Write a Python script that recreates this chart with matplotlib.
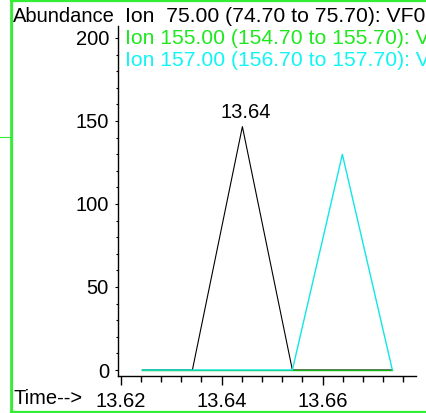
import matplotlib
matplotlib.use("Agg")
import matplotlib.pyplot as plt
from matplotlib.ticker import MultipleLocator, FormatStrFormatter
from matplotlib.lines import Line2D

plt.rcParams['font.family'] = ['Liberation Sans', 'DejaVu Sans']

# scan times (min) and abundances for the three ions
times = [13.6243, 13.6342, 13.6441, 13.6540, 13.6639, 13.6738]
ion75 = [0, 0, 146.6, 0, 0, 0]
ion155 = [0, 0, 0, 0, 0, 0]
ion157 = [0, 0, 0, 0, 129.9, 0]

headers = ["Ion  75.00 (74.70 to 75.70): VF0",
           "Ion 155.00 (154.70 to 155.70): V",
           "Ion 157.00 (156.70 to 157.70): V"]
text_colors = ['black', '#1ee81e', '#11f5f5']
line_colors = ['black', '#10b810', '#12e6e6']

W, H = 426, 413
fig = plt.figure(figsize=(W / 100, H / 100), dpi=100)
fig.patch.set_facecolor('white')

def fx(px):
    return px / W

def fy(py):
    return 1 - py / H

ax = fig.add_axes([fx(118), fy(375.7), fx(416) - fx(118), fy(26) - fy(375.7)])

ax.plot(times, ion75, color=line_colors[0], lw=0.8)
ax.plot(times, ion155, color=line_colors[1], lw=1.0)
ax.plot(times, ion157, color=line_colors[2], lw=1.0)

# label the biggest peak with its retention time
ipk = ion75.index(max(ion75))
ax.annotate("%.2f" % times[ipk], (times[ipk], ion75[ipk]), xytext=(3, 5),
            textcoords='offset pixels', ha='center', va='bottom', fontsize=14.5)

ax.set_xlim(13.61947, 13.67848)
ax.set_ylim(-3.43, 207.2)

for s in ['top', 'right']:
    ax.spines[s].set_visible(False)
for s in ['left', 'bottom']:
    ax.spines[s].set_linewidth(1.0)

ax.xaxis.set_major_locator(MultipleLocator(0.02))
ax.xaxis.set_minor_locator(MultipleLocator(0.004))
ax.xaxis.set_major_formatter(FormatStrFormatter('%.2f'))
ax.yaxis.set_major_locator(MultipleLocator(50))
ax.yaxis.set_minor_locator(MultipleLocator(10))

ax.tick_params(axis='x', which='major', direction='out', length=6.5, width=1.0,
               labelsize=14.5, pad=5)
ax.tick_params(axis='x', which='minor', direction='out', length=4, width=1.0)
ax.tick_params(axis='y', which='major', direction='out', length=2.5, width=0.8,
               labelsize=14.5, pad=4)
ax.tick_params(axis='y', which='minor', direction='out', length=1.5, width=0.8)

# header texts
fig.text(fx(13), fy(16), "Abundance", fontsize=14.5, ha='left', va='center')
rows = [16, 38.5, 60]
for txt, c, r in zip(headers, text_colors, rows):
    fig.text(fx(125), fy(r), txt, fontsize=15.2, color=c, ha='left', va='center')

fig.text(fx(13), fy(399), "Time-->", fontsize=14.5, ha='left', va='center')

# green panel frame
frame = '#33ee33'
fig.add_artist(Line2D([fx(12), fx(12)], [fy(0), fy(412)], color=frame, lw=1.6,
                      transform=fig.transFigure))
fig.add_artist(Line2D([fx(10), fx(10)], [fy(0), fy(412)], color=frame, lw=0.6,
                      transform=fig.transFigure))
fig.add_artist(Line2D([fx(11), fx(426)], [fy(1), fy(1)], color=frame, lw=1.6,
                      transform=fig.transFigure))
fig.add_artist(Line2D([fx(11), fx(426)], [fy(411.5), fy(411.5)], color=frame, lw=1.6,
                      transform=fig.transFigure))
fig.add_artist(Line2D([fx(0), fx(10)], [fy(137), fy(137)], color=frame, lw=0.8,
                      transform=fig.transFigure))

fig.savefig("out.png", dpi=100)
